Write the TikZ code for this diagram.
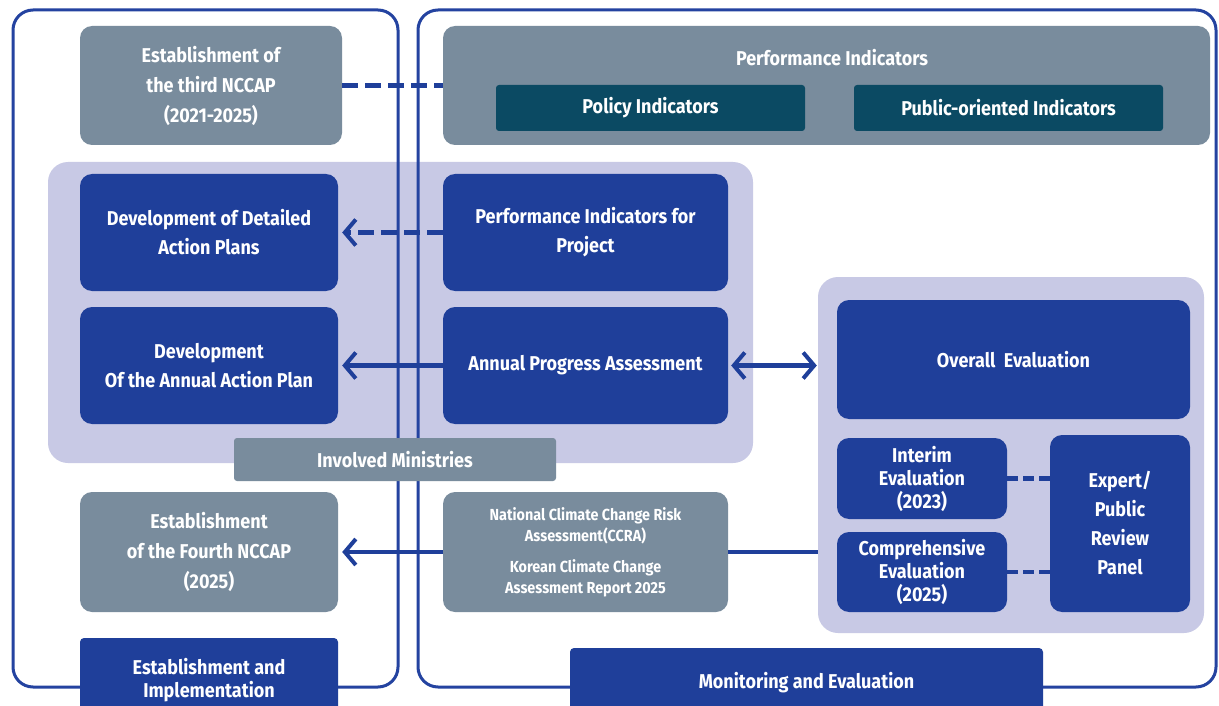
\documentclass[tikz,border=0pt]{standalone}
\usepackage{fontspec}
\setmainfont{Fira Sans}[FakeStretch=0.9]
\usetikzlibrary{arrows.meta}
\definecolor{planBlue}{HTML}{1F3F9A}
\definecolor{frameBlue}{HTML}{2443A0}
\definecolor{boxGray}{HTML}{798C9D}
\definecolor{zoneLilac}{HTML}{C8C9E5}
\definecolor{indTeal}{HTML}{0B4A63}
\tikzstyle{blueBox}=[rounded corners = 12pt, fill = planBlue, text = white, align = center, inner sep = 0pt, font = \bfseries\fontsize{20}{29}\selectfont]
\tikzstyle{grayBox}=[rounded corners = 12pt, fill = boxGray, text = white, align = center, inner sep = 0pt, font = \bfseries\fontsize{20}{30}\selectfont]

\begin{document}
\begin{tikzpicture}[x = 1pt, y = -1pt]
\tikzstyle{zone}=[rounded corners = 20pt, fill = zoneLilac, inner sep = 0pt]
\tikzstyle{tealBox}=[rounded corners = 3pt, fill = indTeal, text = white, inner sep = 0pt, font = \bfseries\fontsize{20}{24}\selectfont]
\tikzstyle{frame}=[draw = frameBlue, line width = 3pt, rounded corners = 20pt]
\tikzstyle{link}=[draw = planBlue, line width = 4.5pt]
\tikzstyle{dashLink}=[link, dash pattern = on 16pt off 7pt]
\tikzstyle{barb}=[-{Straight Barb[length = 11pt, width = 26pt, line width = 4pt]}]
\tikzstyle{twoBarb}=[{Straight Barb[length = 11pt, width = 26pt, line width = 4pt]}-{Straight Barb[length = 11pt, width = 26pt, line width = 4pt]}]
\useasboundingbox (0,0) rectangle (1219,706);
\fill[white] (0,0) rectangle (1219,706);
% lilac areas
\node[zone, minimum width = 705pt, minimum height = 301pt] (planzone) at (400.5,312.5) {};
\node[zone, minimum width = 386pt, minimum height = 356pt] (evalzone) at (1011,455) {};
% frames
\draw[frame] (13,10) rectangle (398,687);
\draw[frame] (418,10) rectangle (1216,687);
% top row
\node[grayBox, minimum width = 262pt, minimum height = 119pt] (ncc3) at (211,85.5) {Establishment of\\the third NCCAP\\(2021-2025)};
\node[grayBox, minimum width = 767pt, minimum height = 119pt] (perfind) at (826.5,85.5) {};
\node[text = white, font = \bfseries\fontsize{20}{24}\selectfont] (perftitle) at (832,58) {Performance Indicators};
\node[tealBox, minimum width = 309pt, minimum height = 46pt] (polind) at (650.5,108) {Policy Indicators};
\node[tealBox, minimum width = 309pt, minimum height = 46pt] (pubind) at (1008.5,108) {Public-oriented Indicators};
% planning
\node[blueBox, minimum width = 258pt, minimum height = 117pt] (detplan) at (209,232.5) {Development of Detailed\\Action Plans};
\node[blueBox, minimum width = 285pt, minimum height = 117pt] (piproj) at (585.5,232.5) {Performance Indicators for\\Project};
\node[blueBox, minimum width = 258pt, minimum height = 117pt] (annplan) at (209,365.5) {Development\\Of the Annual Action Plan};
\node[blueBox, minimum width = 285pt, minimum height = 117pt] (apa) at (585.5,365.5) {Annual Progress Assessment};
\node[grayBox, rounded corners = 3pt, minimum width = 322pt, minimum height = 43pt] (invmin) at (395,459.5) {Involved Ministries};
% evaluation
\node[blueBox, minimum width = 353pt, minimum height = 119pt] (overall) at (1013.5,359.5) {Overall~~Evaluation};
\node[blueBox, minimum width = 170pt, minimum height = 81pt, font = \bfseries\fontsize{20}{23}\selectfont] (interim) at (922,478.5) {Interim\\Evaluation\\(2023)};
\node[blueBox, minimum width = 170pt, minimum height = 80pt, font = \bfseries\fontsize{20}{23}\selectfont] (compr) at (922,572) {Comprehensive\\Evaluation\\(2025)};
\node[blueBox, minimum width = 140pt, minimum height = 177pt] (panel) at (1120,523.5) {Expert/\\Public\\Review\\Panel};
% next plan
\node[grayBox, minimum width = 258pt, minimum height = 120pt] (ncc4) at (209,552) {Establishment\\of the Fourth NCCAP\\(2025)};
\node[grayBox, minimum width = 285pt, minimum height = 120pt, font = \bfseries\fontsize{16}{21}\selectfont] (ccra) at (585.5,552) {National Climate Change Risk\\Assessment(CCRA)\\[10pt]Korean Climate Change\\Assessment Report 2025};
% stage labels
\node[blueBox, rounded corners = 4pt, minimum width = 258pt, minimum height = 84pt, font = \bfseries\fontsize{20}{23}\selectfont] (estimpl) at (209,680) {Establishment and\\Implementation};
\node[blueBox, rounded corners = 4pt, minimum width = 473pt, minimum height = 70pt, font = \bfseries\fontsize{20}{22}\selectfont] (moneval) at (806.5,683) {Monitoring and Evaluation};
% connectors
\draw[dashLink] (ncc3.east) -- (perfind.west);
\draw[dashLink, barb] (piproj.west) -- ([xshift = 4pt]detplan.east);
\draw[link, barb] (apa.west) -- ([xshift = 4pt]annplan.east);
\draw[link, twoBarb] ([xshift = 3pt]apa.east) -- ([xshift = -1pt]apa.east -| evalzone.west);
\draw[link] (evalzone.west |- ccra.east) -- (ccra.east);
\draw[link, barb] (ccra.west) -- ([xshift = 4pt]ncc4.east);
\draw[link, dash pattern = on 11pt off 5pt] (interim.east) -- (interim.east -| panel.west);
\draw[link, dash pattern = on 11pt off 5pt] (compr.east) -- (compr.east -| panel.west);
\end{tikzpicture}
\end{document}
